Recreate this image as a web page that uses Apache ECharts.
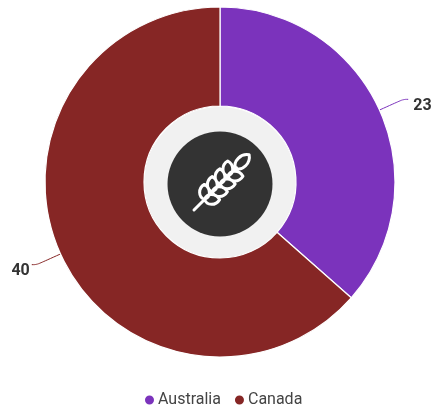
<!DOCTYPE html>
<html><head><meta charset="utf-8">
<style>html,body{margin:0;padding:0;background:#fff}#c{width:433px;height:418px}</style>
<script src="https://cdn.jsdelivr.net/npm/echarts@6/dist/echarts.min.js"></script>
</head><body><div id="c"></div>
<script>
const categories = ["Australia", "Canada"];
const values = [23, 40];
const colors = ["#7B33BC", "#862625"];
const labelGaps = [5, 2];

const chart = echarts.init(document.getElementById('c'), null, {renderer:'canvas'});

function leaf(x, side, len, wid, ang) {
  const c = Math.cos(ang), s = Math.sin(ang) * side;
  const p = (u, v) => { const vv = v * side; return [(x + u*c - vv*s).toFixed(2), (u*s + vv*c).toFixed(2)].join(' '); };
  return `M${p(0,0)}C${p(len*.15,wid)} ${p(len*.75,wid)} ${p(len,0)}C${p(len*.75,-wid)} ${p(len*.15,-wid)} ${p(0,0)}Z`;
}
let wheat = "M0 0L60 0";
[15,26,37,48].forEach(x => {
  wheat += leaf(x, 1, 15, 6.5, 0.8) + leaf(x, -1, 15, 6.5, 0.8);
});
wheat += leaf(59, 1, 19, 7, 0);
echarts.graphic.registerShape('wheatIcon', echarts.graphic.extendPath(wheat, {}));

chart.setOption({
  animation:false,
  legend:{
    data:categories, bottom:5, left:138, icon:'circle', itemWidth:11, itemHeight:11, itemGap:12,
    textStyle:{fontFamily:'Roboto', fontSize:16, color:'#444', padding:[0,0,0,-2]}
  },
  graphic:[
    {type:'circle', z:0, shape:{cx:220,cy:183,r:76}, style:{fill:'#F1F1F1'}},
    {type:'circle', z:1, shape:{cx:220,cy:184,r:52.5}, style:{fill:'#333333'}},
    {type:'wheatIcon', z:2, x:194, y:210, originX:0, originY:0, rotation:Math.PI/4,
     style:{fill:'#333333', stroke:'#ffffff', lineWidth:3, lineCap:'round', lineJoin:'round'}}
  ],
  series:[{
    type:'pie', center:[220,182], radius:[76,175], startAngle:90, clockwise:true,
    color:colors,
    itemStyle:{borderColor:'#fff', borderWidth:1.2},
    label:{show:true, formatter:'{v|{c}}', overflow:'none', bleedMargin:0,
      rich:{v:{fontFamily:'Roboto', fontSize:16, fontWeight:'bold', color:'#333', padding:[13,0,0,0]}}},
    labelLine:{show:true, length:26, length2:5, smooth:0.4, lineStyle:{width:1}},
    emphasis:{disabled:true},
    data:categories.map((n,i)=>({name:n,value:values[i],label:{distanceToLabelLine:labelGaps[i]}}))
  }]
});
</script></body></html>
